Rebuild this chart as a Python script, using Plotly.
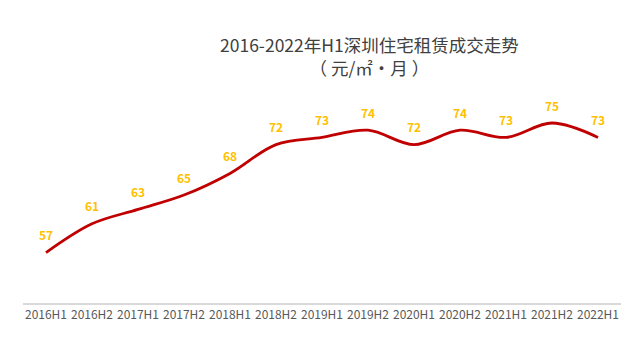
import plotly.graph_objects as go

categories = ["2016H1", "2016H2", "2017H1", "2017H2", "2018H1", "2018H2", "2019H1",
              "2019H2", "2020H1", "2020H2", "2021H1", "2021H2", "2022H1"]
values = [57, 61, 63, 65, 68, 72, 73, 74, 72, 74, 73, 75, 73]

title_line1 = "2016-2022年H1深圳住宅租赁成交走势"
title_line2 = "（ 元/㎡·月 ）"

font_cjk = "Noto Sans CJK SC, Microsoft YaHei, sans-serif"

fig = go.Figure()
fig.add_trace(go.Scatter(
    x=categories, y=values, mode="lines",
    line=dict(color="#C00000", width=2.8, shape="spline", smoothing=1.0),
    hoverinfo="skip", showlegend=False,
))

for c, v in zip(categories, values):
    fig.add_annotation(x=c, y=v, text=f"<b>{v}</b>", showarrow=False,
                       yshift=18, font=dict(family=font_cjk, size=12, color="#FFC000"))

fig.add_annotation(xref="paper", yref="paper", x=0.579, y=1.0, yshift=31,
                   yanchor="middle", text=title_line1 + "<br>" + title_line2,
                   showarrow=False, align="center",
                   font=dict(family=font_cjk, size=17.5, color="#404040"))

fig.update_layout(
    width=624, height=341,
    margin=dict(l=15, r=11, t=79, b=46),
    paper_bgcolor="white", plot_bgcolor="white",
    xaxis=dict(type="category", range=[-0.5, 12.5], showgrid=False,
               showline=True, linecolor="#D9D9D9", linewidth=1.5,
               ticks="", tickfont=dict(family=font_cjk, size=12, color="#595959"),
               fixedrange=True),
    yaxis=dict(range=[50, 80], showgrid=False, zeroline=False,
               showticklabels=False, showline=False, fixedrange=True),
)

fig.write_html("out.html")
